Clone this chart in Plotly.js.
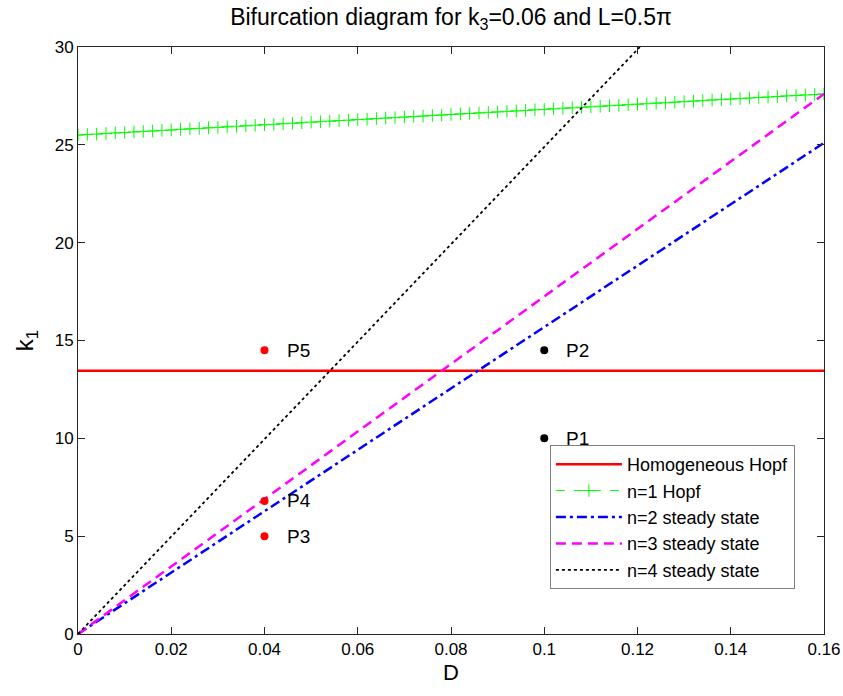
<!DOCTYPE html>
<html>
<head>
<meta charset="utf-8">
<script src="https://cdn.plot.ly/plotly-3.0.1.min.js"></script>
<style>html,body{margin:0;padding:0;background:#fff;}#chart{width:843px;height:696px;}</style>
</head>
<body>
<div id="chart"></div>
<script>
// Homogeneous Hopf
const hopfD = [0, 0.16];
const hopfK1 = [13.45, 13.45];

// n=1 Hopf
const n1D = [0,0.002,0.004,0.006,0.008,0.010,0.012,0.014,0.016,0.018,
  0.020,0.022,0.024,0.026,0.028,0.030,0.032,0.034,0.036,0.038,
  0.040,0.042,0.044,0.046,0.048,0.050,0.052,0.054,0.056,0.058,
  0.060,0.062,0.064,0.066,0.068,0.070,0.072,0.074,0.076,0.078,
  0.080,0.082,0.084,0.086,0.088,0.090,0.092,0.094,0.096,0.098,
  0.100,0.102,0.104,0.106,0.108,0.110,0.112,0.114,0.116,0.118,
  0.120,0.122,0.124,0.126,0.128,0.130,0.132,0.134,0.136,0.138,
  0.140,0.142,0.144,0.146,0.148,0.150,0.152,0.154,0.156,0.158,0.160];
const n1K1 = [25.50,25.53,25.55,25.58,25.61,25.63,25.66,25.68,25.71,25.74,
  25.76,25.79,25.82,25.84,25.87,25.89,25.92,25.95,25.97,26.00,
  26.03,26.05,26.08,26.10,26.13,26.16,26.18,26.21,26.24,26.26,
  26.29,26.31,26.34,26.37,26.39,26.42,26.45,26.47,26.50,26.52,
  26.55,26.58,26.60,26.63,26.66,26.68,26.71,26.73,26.76,26.79,
  26.81,26.84,26.87,26.89,26.92,26.94,26.97,27.00,27.02,27.05,
  27.08,27.10,27.13,27.15,27.18,27.21,27.23,27.26,27.29,27.31,
  27.34,27.36,27.39,27.42,27.44,27.47,27.50,27.52,27.55,27.57,27.60];

// n=2, n=3, n=4 steady states
const n2D = [0, 0.16];
const n2K1 = [0, 25.1];
const n3D = [0, 0.16];
const n3K1 = [0, 27.6];
const n4D = [0, 0.1205];
const n4K1 = [0, 30];

// Sample points
const blackPtsD = [0.1, 0.1];
const blackPtsK1 = [10, 14.5];
const blackPtsLbl = ["P1", "P2"];
const redPtsD = [0.04, 0.04, 0.04];
const redPtsK1 = [5, 6.8, 14.5];
const redPtsLbl = ["P3", "P4", "P5"];

const xTicks = [0,0.02,0.04,0.06,0.08,0.1,0.12,0.14,0.16];
const xTickText = ["0","0.02","0.04","0.06","0.08","0.1","0.12","0.14","0.16"];
const yTicks = [0,5,10,15,20,25,30];

const FONT = "Arial, 'Liberation Sans', sans-serif";

const traces = [
  {x: hopfD, y: hopfK1, mode: "lines", name: "Homogeneous Hopf",
   line: {color: "#ff0000", width: 2.5}},
  {x: n1D, y: n1K1, mode: "lines+markers", name: "n=1 Hopf",
   line: {color: "#00ff00", width: 1, dash: "dash"},
   marker: {symbol: "cross-thin", size: 9, color: "#00ff00", line: {color: "#00ff00", width: 1}}},
  {x: n2D, y: n2K1, mode: "lines", name: "n=2 steady state",
   line: {color: "#0000ff", width: 2.5, dash: "10px,4px,3px,4px"}},
  {x: n3D, y: n3K1, mode: "lines", name: "n=3 steady state",
   line: {color: "#ff00ff", width: 2.5, dash: "10px,6px"}},
  {x: n4D, y: n4K1, mode: "lines", name: "n=4 steady state",
   line: {color: "#000000", width: 1.8, dash: "dot"}},
  {x: blackPtsD, y: blackPtsK1, mode: "markers", showlegend: false,
   marker: {color: "#000000", size: 8}},
  {x: redPtsD, y: redPtsK1, mode: "markers", showlegend: false,
   marker: {color: "#ff0000", size: 8}}
];

const annotations = [];
blackPtsD.forEach((d, i) => annotations.push({x: d, y: blackPtsK1[i], text: blackPtsLbl[i], showarrow: false,
  xanchor: "left", yanchor: "middle", xshift: 20, font: {family: FONT, size: 19, color: "#000"}}));
redPtsD.forEach((d, i) => annotations.push({x: d, y: redPtsK1[i], text: redPtsLbl[i], showarrow: false,
  xanchor: "left", yanchor: "middle", xshift: 20, font: {family: FONT, size: 19, color: "#000"}}));

const axisCommon = {
  showline: true, linecolor: "#262626", linewidth: 1, mirror: "ticks",
  ticks: "inside", ticklen: 7, tickcolor: "#262626", tickwidth: 1,
  showgrid: false, zeroline: false,
  tickfont: {family: FONT, size: 17, color: "#000"}
};

const layout = {
  width: 843, height: 696,
  margin: {l: 78, r: 19, t: 47, b: 62},
  paper_bgcolor: "#fff", plot_bgcolor: "#fff",
  font: {family: FONT, color: "#000"},
  title: {text: "Bifurcation diagram for k<sub>3</sub>=0.06 and L=0.5π", font: {family: FONT, size: 23, color: "#000"},
          x: 0.535, xanchor: "center", y: 0.975, yanchor: "middle"},
  xaxis: Object.assign({}, axisCommon, {range: [0, 0.16], tickvals: xTicks, ticktext: xTickText,
    title: {text: "D", font: {family: FONT, size: 22}, standoff: 6}}),
  yaxis: Object.assign({}, axisCommon, {range: [0, 30], tickvals: yTicks,
    title: {text: "k<sub>1</sub>", font: {family: FONT, size: 24}, standoff: 14}}),
  showlegend: true,
  legend: {x: 0.961, y: 0.0767, xanchor: "right", yanchor: "bottom",
    bgcolor: "#fff", bordercolor: "#808080", borderwidth: 1,
    font: {family: FONT, size: 18, color: "#000"}, tracegroupgap: 0, itemwidth: 66},
  annotations: annotations
};

Plotly.newPlot("chart", traces, layout, {displayModeBar: false, staticPlot: true});
</script>
</body>
</html>
